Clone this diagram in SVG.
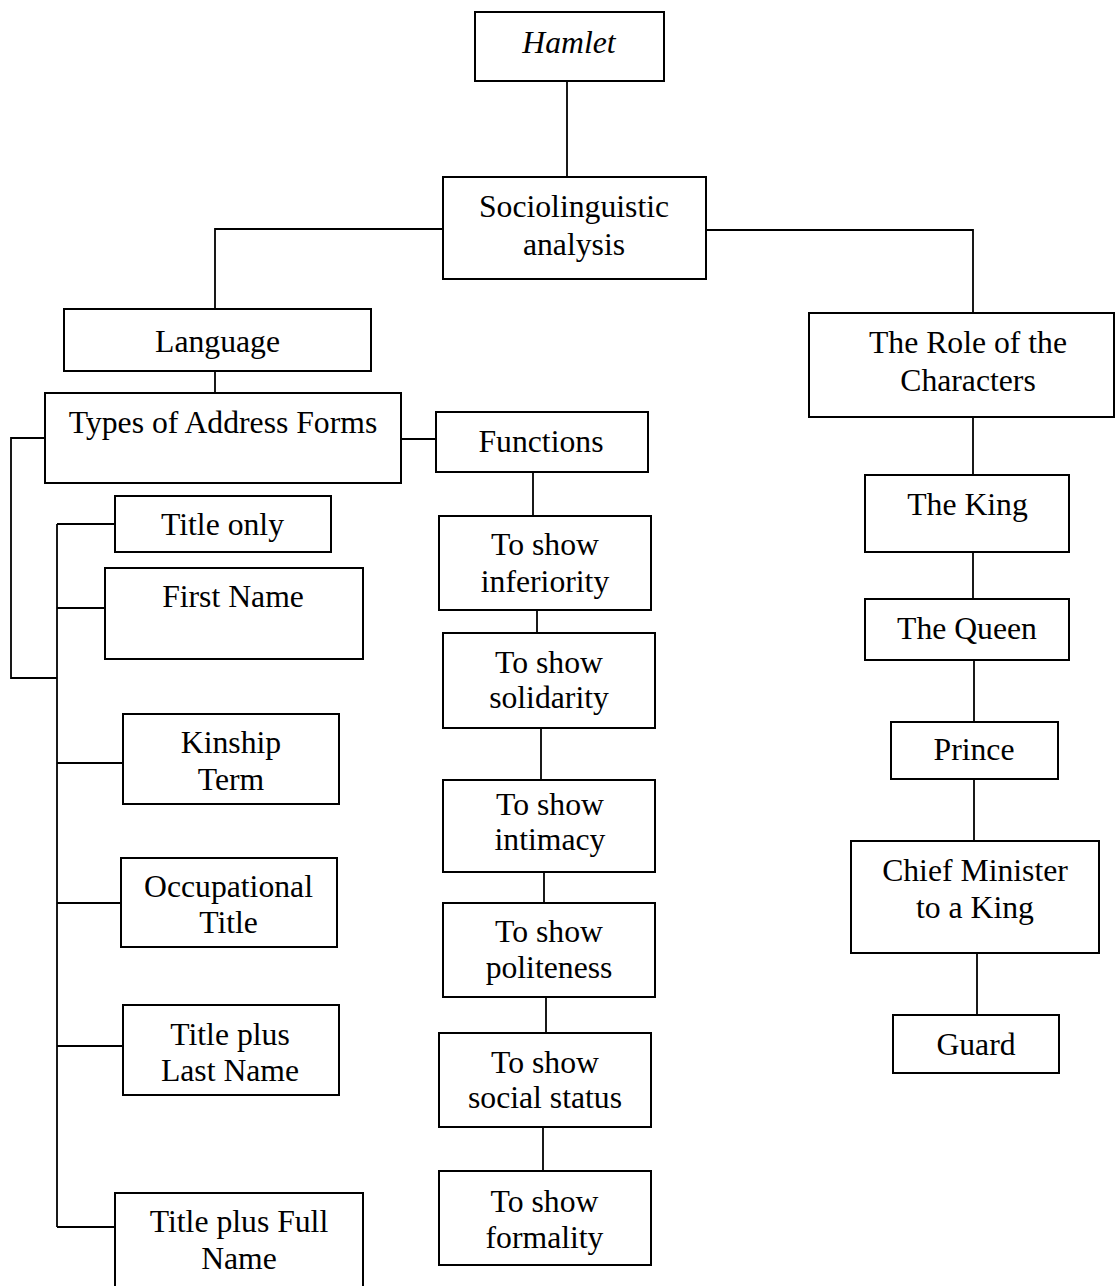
<svg xmlns="http://www.w3.org/2000/svg" width="1115" height="1286" viewBox="0 0 1115 1286">
<style>
.box{fill:#fff;stroke:#000;stroke-width:2}
.t{font-family:"Liberation Serif","Times New Roman",serif;font-size:31.7px;fill:#000;text-anchor:middle}
.it{font-style:italic}
.c{fill:none;stroke:#000;stroke-width:1.8}
</style>
<rect width="1115" height="1286" fill="#fff"/>
<g id="connectors">
<path class="c" d="M567,81 V177"/>
<path class="c" d="M443,229 H215 V309"/>
<path class="c" d="M706,230 H973 V313"/>
<path class="c" d="M215,371 V393"/>
<path class="c" d="M45,438 H11 V678 H57"/>
<path class="c" d="M57,524 V1227"/>
<path class="c" d="M57,524 H115"/>
<path class="c" d="M57,608 H105"/>
<path class="c" d="M57,763 H123"/>
<path class="c" d="M57,903 H121"/>
<path class="c" d="M57,1046 H123"/>
<path class="c" d="M57,1227 H115"/>
<path class="c" d="M401,439 H436"/>
<path class="c" d="M533,472 V516"/>
<path class="c" d="M537,610 V633"/>
<path class="c" d="M541,728 V780"/>
<path class="c" d="M544,872 V903"/>
<path class="c" d="M546,997 V1033"/>
<path class="c" d="M543,1127 V1171"/>
<path class="c" d="M973,417 V475"/>
<path class="c" d="M973,552 V599"/>
<path class="c" d="M974,660 V722"/>
<path class="c" d="M974,779 V841"/>
<path class="c" d="M977,953 V1015"/>
</g>
<g id="hamlet"><rect class="box" x="475" y="12" width="189" height="69"/><text class="t it" x="569" y="53">Hamlet</text></g>
<g id="socio"><rect class="box" x="443" y="177" width="263" height="102"/><text class="t" x="574" y="217">Sociolinguistic</text><text class="t" x="574" y="255">analysis</text></g>
<g id="language"><rect class="box" x="64" y="309" width="307" height="62"/><text class="t" x="217.5" y="352">Language</text></g>
<g id="types"><rect class="box" x="45" y="393" width="356" height="90"/><text class="t" x="223" y="433">Types of Address Forms</text></g>
<g id="functions"><rect class="box" x="436" y="412" width="212" height="60"/><text class="t" x="541" y="452">Functions</text></g>
<g id="title-only"><rect class="box" x="115" y="496" width="216" height="56"/><text class="t" x="222.5" y="535">Title only</text></g>
<g id="first-name"><rect class="box" x="105" y="568" width="258" height="91"/><text class="t" x="233" y="607">First Name</text></g>
<g id="kinship"><rect class="box" x="123" y="714" width="216" height="90"/><text class="t" x="231" y="753">Kinship</text><text class="t" x="231" y="790">Term</text></g>
<g id="occupational"><rect class="box" x="121" y="858" width="216" height="89"/><text class="t" x="228.5" y="897">Occupational</text><text class="t" x="228.5" y="933">Title</text></g>
<g id="title-last"><rect class="box" x="123" y="1005" width="216" height="90"/><text class="t" x="230" y="1045">Title plus</text><text class="t" x="230" y="1081">Last Name</text></g>
<g id="title-full"><rect class="box" x="115" y="1193" width="248" height="100"/><text class="t" x="239" y="1232">Title plus Full</text><text class="t" x="239" y="1269">Name</text></g>
<g id="inferiority"><rect class="box" x="439" y="516" width="212" height="94"/><text class="t" x="545" y="555">To show</text><text class="t" x="545" y="592">inferiority</text></g>
<g id="solidarity"><rect class="box" x="443" y="633" width="212" height="95"/><text class="t" x="549" y="673">To show</text><text class="t" x="549" y="708">solidarity</text></g>
<g id="intimacy"><rect class="box" x="443" y="780" width="212" height="92"/><text class="t" x="550" y="815">To show</text><text class="t" x="550" y="850">intimacy</text></g>
<g id="politeness"><rect class="box" x="443" y="903" width="212" height="94"/><text class="t" x="549" y="942">To show</text><text class="t" x="549" y="978">politeness</text></g>
<g id="social-status"><rect class="box" x="439" y="1033" width="212" height="94"/><text class="t" x="545" y="1073">To show</text><text class="t" x="545" y="1108">social status</text></g>
<g id="formality"><rect class="box" x="439" y="1171" width="212" height="94"/><text class="t" x="544.5" y="1212">To show</text><text class="t" x="544.5" y="1248">formality</text></g>
<g id="role"><rect class="box" x="809" y="313" width="305" height="104"/><text class="t" x="968" y="353">The Role of the</text><text class="t" x="968" y="391">Characters</text></g>
<g id="king"><rect class="box" x="865" y="475" width="204" height="77"/><text class="t" x="967.5" y="515">The King</text></g>
<g id="queen"><rect class="box" x="865" y="599" width="204" height="61"/><text class="t" x="967" y="639">The Queen</text></g>
<g id="prince"><rect class="box" x="891" y="722" width="167" height="57"/><text class="t" x="974" y="760">Prince</text></g>
<g id="chief"><rect class="box" x="851" y="841" width="248" height="112"/><text class="t" x="975" y="881">Chief Minister</text><text class="t" x="975" y="918">to a King</text></g>
<g id="guard"><rect class="box" x="893" y="1015" width="166" height="58"/><text class="t" x="976" y="1055">Guard</text></g>
</svg>
